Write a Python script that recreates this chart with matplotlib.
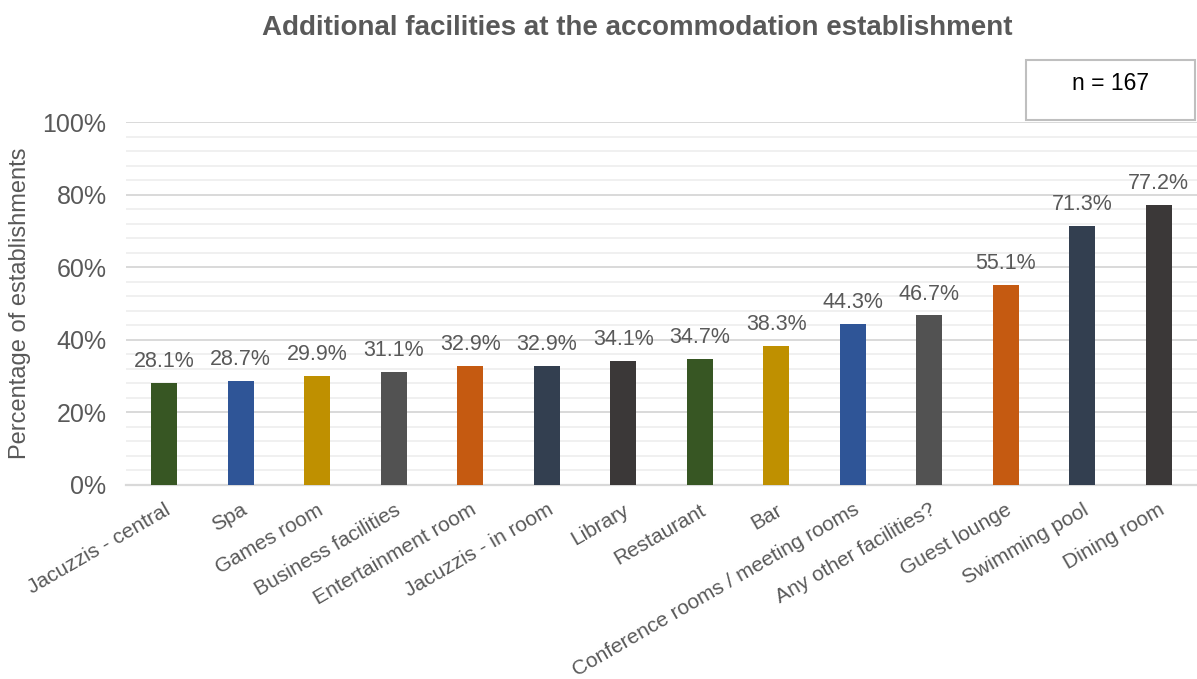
import matplotlib

matplotlib.use("Agg")
import matplotlib.pyplot as plt
from matplotlib.patches import Rectangle
from matplotlib.ticker import MultipleLocator, PercentFormatter

plt.rcParams["font.family"] = ["Liberation Sans", "DejaVu Sans"]

TEXT = "#595959"

facilities = [
    "Jacuzzis - central",
    "Spa",
    "Games room",
    "Business facilities",
    "Entertainment room",
    "Jacuzzis - in room",
    "Library",
    "Restaurant",
    "Bar",
    "Conference rooms / meeting rooms",
    "Any other facilities?",
    "Guest lounge",
    "Swimming pool",
    "Dining room",
]
pct = [28.1, 28.7, 29.9, 31.1, 32.9, 32.9, 34.1, 34.7, 38.3, 44.3, 46.7, 55.1, 71.3, 77.2]
bar_colors = [
    "#375623", "#2F5597", "#BF9000", "#525252", "#C55A11", "#333F50", "#3B3838",
    "#375623", "#BF9000", "#2F5597", "#525252", "#C55A11", "#333F50", "#3B3838",
]
n_total = 167

fig = plt.figure(figsize=(11.97, 6.79), dpi=100)
ax = fig.add_axes([126 / 1197, 1 - 485 / 679, 1 - 126 / 1197, (485 - 122) / 679])

x = range(len(facilities))
ax.bar(x, pct, width=0.34, color=bar_colors, zorder=3)

for xi, v in zip(x, pct):
    ax.annotate(
        f"{v:.1f}%",
        (xi, v),
        xytext=(0, 11.5),
        textcoords="offset points",
        ha="center",
        va="baseline",
        fontsize=15.5,
        color=TEXT,
    )

ax.set_xlim(-0.5, len(facilities) - 0.5)
ax.set_ylim(0, 100)
ax.yaxis.set_major_locator(MultipleLocator(20))
ax.yaxis.set_minor_locator(MultipleLocator(4))
ax.yaxis.set_major_formatter(PercentFormatter(decimals=0))
ax.grid(axis="y", which="major", color="#d9d9d9", linewidth=1.4, zorder=0)
ax.grid(axis="y", which="minor", color="#f0f0f0", linewidth=1.4, zorder=0)
ax.set_axisbelow(True)

for side in ("top", "right", "left"):
    ax.spines[side].set_visible(False)
ax.spines["bottom"].set_color("#d9d9d9")
ax.spines["bottom"].set_linewidth(1.6)

ax.tick_params(axis="y", which="both", length=0, pad=14, labelsize=18, labelcolor=TEXT)
ax.tick_params(axis="x", length=0, pad=11)
ax.set_xticks(list(x))
ax.set_xticklabels(
    facilities, rotation=30, ha="right", rotation_mode="anchor", fontsize=15, color=TEXT
)

ax.set_ylabel("Percentage of establishments", fontsize=17, color=TEXT, labelpad=8)

fig.text(
    637 / 1197,
    1 - 28 / 679,
    "Additional facilities at the accommodation establishment",
    ha="center",
    va="center",
    fontsize=20,
    fontweight="bold",
    color=TEXT,
)

box = Rectangle(
    (1026 / 1197, 1 - 120 / 679),
    (1195 - 1026) / 1197,
    60 / 679,
    transform=fig.transFigure,
    facecolor="white",
    edgecolor="#bfbfbf",
    linewidth=1.5,
)
fig.patches.append(box)
fig.text(
    1110 / 1197,
    1 - 84 / 679,
    f"n = {n_total}",
    ha="center",
    va="center",
    fontsize=16.5,
    color="black",
)

fig.savefig("out.png")
plt.close(fig)
